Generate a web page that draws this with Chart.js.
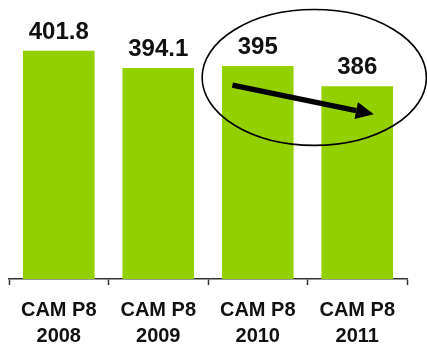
<!DOCTYPE html>
<html>
<head>
<meta charset="utf-8">
<script src="https://cdn.jsdelivr.net/npm/chart.js@4.4.1/dist/chart.umd.min.js"></script>
<style>
  html, body { margin: 0; padding: 0; background: #ffffff; }
  #wrap { width: 427px; height: 346px; position: relative; }
</style>
</head>
<body>
<div id="wrap"><canvas id="chart"></canvas></div>
<script>
// Category labels (two lines each) and yearly values
const categories = [
  ['CAM P8', '2008'],
  ['CAM P8', '2009'],
  ['CAM P8', '2010'],
  ['CAM P8', '2011']
];
const values = [401.8, 394.1, 395, 386];

// Highlight of the 2010 -> 2011 drop, in category-index / value units
const trendArrow = { from: [1.745, 386.5], to: [3.167, 373.5] };
const trendRing = { center: [2.568, 389.9], radiusX: 1.127, radiusY: 30.3 };

const FONT = '"Liberation Sans", Arial, sans-serif';

// Value labels above each bar
const valueLabels = {
  id: 'valueLabels',
  afterDatasetsDraw(chart) {
    const ctx = chart.ctx;
    const meta = chart.getDatasetMeta(0);
    ctx.save();
    ctx.font = 'bold 24px ' + FONT;
    ctx.fillStyle = '#111111';
    ctx.textAlign = 'center';
    ctx.textBaseline = 'alphabetic';
    meta.data.forEach((bar, i) => {
      ctx.fillText(String(values[i]), bar.x, bar.y - 12);
    });
    ctx.restore();
  }
};

// Ellipse and arrow drawn over the last two bars
const trendMarker = {
  id: 'trendMarker',
  afterDraw(chart) {
    const ctx = chart.ctx;
    const xs = chart.scales.x, ys = chart.scales.y;
    const px = v => xs.getPixelForValue(v);
    const py = v => ys.getPixelForValue(v);
    ctx.save();

    // ellipse
    const cx = px(trendRing.center[0]);
    const cy = py(trendRing.center[1]);
    const rx = px(trendRing.center[0] + trendRing.radiusX) - cx;
    const ry = py(trendRing.center[1] - trendRing.radiusY) - cy;
    ctx.beginPath();
    ctx.ellipse(cx, cy, rx, ry, 0, 0, Math.PI * 2);
    ctx.lineWidth = 1.6;
    ctx.strokeStyle = '#000000';
    ctx.stroke();

    // arrow
    const x1 = px(trendArrow.from[0]), y1 = py(trendArrow.from[1]);
    const x2 = px(trendArrow.to[0]), y2 = py(trendArrow.to[1]);
    const ang = Math.atan2(y2 - y1, x2 - x1);
    const headLen = 18, headHalf = 8.5;
    const bx = x2 - headLen * Math.cos(ang), by = y2 - headLen * Math.sin(ang);
    ctx.beginPath();
    ctx.moveTo(x1, y1);
    ctx.lineTo(bx, by);
    ctx.lineWidth = 5.5;
    ctx.lineCap = 'butt';
    ctx.stroke();
    ctx.beginPath();
    ctx.moveTo(x2, y2);
    ctx.lineTo(bx + headHalf * Math.sin(ang), by - headHalf * Math.cos(ang));
    ctx.lineTo(bx - headHalf * Math.sin(ang), by + headHalf * Math.cos(ang));
    ctx.closePath();
    ctx.fillStyle = '#000000';
    ctx.fill();
    ctx.restore();
  }
};

new Chart(document.getElementById('chart'), {
  type: 'bar',
  data: {
    labels: categories,
    datasets: [{
      data: values,
      backgroundColor: '#92D000',
      borderWidth: 0,
      barPercentage: 0.72,
      categoryPercentage: 1.0
    }]
  },
  options: {
    responsive: true,
    maintainAspectRatio: false,
    animation: false,
    devicePixelRatio: 1,
    layout: { padding: { top: 10, left: 9, right: 20, bottom: 0 } },
    plugins: {
      legend: { display: false },
      tooltip: { enabled: false }
    },
    scales: {
      y: {
        display: false,
        min: 300,
        max: 420
      },
      x: {
        offset: true,
        grid: {
          offset: true,
          drawOnChartArea: false,
          drawTicks: true,
          tickLength: 6,
          tickWidth: 1.5,
          color: '#333333'
        },
        border: { display: true, color: '#333333', width: 1.5 },
        ticks: {
          padding: 12,
          color: '#111111',
          maxRotation: 0,
          autoSkip: false,
          font: { family: FONT, size: 20, weight: 'bold', lineHeight: 1.3 }
        },
        afterFit(scale) { scale.height = 67; }
      }
    }
  },
  plugins: [valueLabels, trendMarker]
});
</script>
</body>
</html>
